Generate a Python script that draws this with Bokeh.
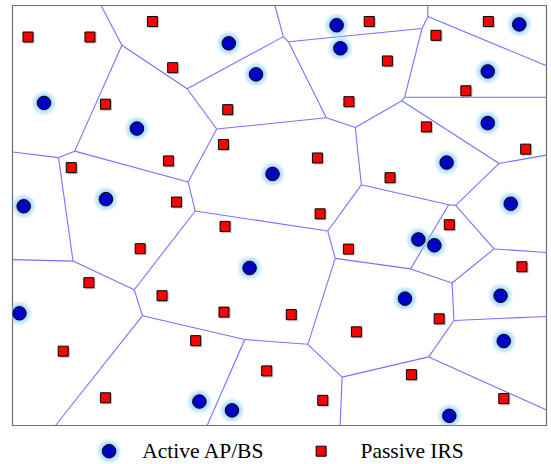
from bokeh.plotting import figure
from bokeh.layouts import column
from bokeh.models import Range1d
from bokeh.embed import file_html
from bokeh.resources import INLINE
from bokeh.core.properties import value

# ---- data (square domain 0..100 x 0..100) ----
ap_x = [40.5, 45.6, 5.9, 23.3, 60.7, 61.4, 94.9, 89.0, 89.0, 81.3, 48.7, 17.5,
        2.1, 93.3, 76.0, 79.0, 44.4, 73.5, 91.4, 1.3, 92.0, 35.0, 41.1, 81.8]
ap_y = [91.0, 83.6, 76.8, 70.7, 95.3, 89.8, 95.5, 84.3, 72.0, 62.6, 59.9, 53.9,
        52.2, 52.8, 44.3, 42.9, 37.5, 30.2, 30.9, 26.7, 20.1, 5.7, 3.6, 2.3]

irs_x = [2.9, 14.5, 26.2, 30.0, 17.4, 40.3, 39.5, 29.2, 11.0, 30.7, 66.8, 89.1,
         79.3, 70.2, 84.9, 63.0, 77.5, 96.1, 57.1, 70.7, 57.6, 39.8, 23.9, 14.3,
         28.0, 39.6, 34.3, 9.5, 47.6, 17.4, 81.8, 62.9, 95.4, 52.2, 79.9, 64.4,
         74.7, 58.1, 92.0]
irs_y = [92.5, 92.5, 96.2, 85.2, 76.5, 75.2, 66.9, 63.0, 61.4, 53.2, 96.2, 96.2,
         92.9, 86.8, 79.7, 77.1, 71.1, 65.8, 63.7, 59.0, 50.4, 47.4, 42.1, 34.0,
         30.9, 27.0, 20.2, 17.7, 13.0, 6.6, 47.8, 42.0, 37.8, 26.4, 25.4, 22.3,
         12.1, 6.0, 6.4]

legend_labels = ["Active AP/BS", "Passive IRS"]

LO, HI = 0.0, 100.0


# ---- Voronoi of the AP sites by half-plane clipping ----
def clip(poly, a, b, c):
    out = []
    n = len(poly)
    for k in range(n):
        P = poly[k]
        Q = poly[(k + 1) % n]
        fp = a * P[0] + b * P[1] - c
        fq = a * Q[0] + b * Q[1] - c
        if fp <= 0:
            out.append(P)
        if (fp < 0 < fq) or (fq < 0 < fp):
            t = fp / (fp - fq)
            out.append((P[0] + t * (Q[0] - P[0]), P[1] + t * (Q[1] - P[1])))
    return out


cells = []
for i in range(len(ap_x)):
    poly = [(LO, LO), (HI, LO), (HI, HI), (LO, HI)]
    xi, yi = ap_x[i], ap_y[i]
    for j in range(len(ap_x)):
        if j == i:
            continue
        xj, yj = ap_x[j], ap_y[j]
        a = 2 * (xj - xi)
        b = 2 * (yj - yi)
        c = xj * xj + yj * yj - xi * xi - yi * yi
        poly = clip(poly, a, b, c)
        if not poly:
            break
    cells.append(poly)


def on_border(P, Q, eps=1e-6):
    for k in (0, 1):
        for bnd in (LO, HI):
            if abs(P[k] - bnd) < eps and abs(Q[k] - bnd) < eps:
                return True
    return False


seen = set()
edge_xs, edge_ys = [], []
for poly in cells:
    n = len(poly)
    for k in range(n):
        P, Q = poly[k], poly[(k + 1) % n]
        if on_border(P, Q):
            continue
        key = tuple(sorted([(round(P[0], 4), round(P[1], 4)), (round(Q[0], 4), round(Q[1], 4))]))
        if key in seen or key[0] == key[1]:
            continue
        seen.add(key)
        edge_xs.append([P[0], Q[0]])
        edge_ys.append([P[1], Q[1]])

# ---- main figure ----
p = figure(width=549, height=430, x_range=Range1d(LO, HI), y_range=Range1d(LO, HI),
           output_backend="svg", toolbar_location=None,
           x_axis_location=None, y_axis_location=None,
           min_border_left=12, min_border_right=3, min_border_top=5, min_border_bottom=5)
p.grid.visible = False
p.outline_line_color = "#6e6e6e"
p.outline_line_width = 1.2
p.background_fill_color = "white"
p.border_fill_color = "white"

p.multi_line(xs=edge_xs, ys=edge_ys, line_color="#7373ff", line_width=1.1)

GLOW = "#8fd0ff"
for sz, al in [(25, 0.18), (22, 0.25), (19, 0.35), (16, 0.5)]:
    p.scatter(ap_x, ap_y, size=sz, marker="circle", fill_color=GLOW, fill_alpha=al, line_color=None)
p.scatter(ap_x, ap_y, size=13.5, marker="circle", fill_color="#0000c4", line_color="black", line_width=1)

p.scatter([x + 0.25 for x in irs_x], [y - 0.3 for y in irs_y], size=10.5, marker="square",
          fill_color="#7a7a7a", fill_alpha=0.45, line_color=None)
p.scatter(irs_x, irs_y, size=10, marker="square", fill_color="#ff0000", line_color="black", line_width=1)

# ---- legend strip ----
lg = figure(width=549, height=34, x_range=Range1d(0, 549), y_range=Range1d(0, 34),
            output_backend="svg", toolbar_location=None,
            x_axis_location=None, y_axis_location=None,
            min_border_left=0, min_border_right=0, min_border_top=0, min_border_bottom=0)
lg.grid.visible = False
lg.outline_line_color = None

lx_c, lx_ct = 99.3, 133.3
lx_s, lx_st = 317.3, 357.7
ly = 13.3
for sz, al in [(25, 0.18), (22, 0.25), (19, 0.35), (16, 0.5)]:
    lg.scatter([lx_c], [ly], size=sz, marker="circle", fill_color=GLOW, fill_alpha=al, line_color=None)
lg.scatter([lx_c], [ly], size=13.5, marker="circle", fill_color="#0000c4", line_color="black", line_width=1)
lg.scatter([lx_s], [ly], size=10, marker="square", fill_color="#ff0000", line_color="black", line_width=1)
lg.text(x=[lx_ct, lx_st], y=[ly, ly], text=legend_labels,
        text_font=value("Liberation Serif"), text_font_size="21.5px",
        text_baseline="middle", text_align="left", text_color="black")

layout = column(p, lg, spacing=0)
open("out.html", "w").write(file_html(layout, INLINE))
